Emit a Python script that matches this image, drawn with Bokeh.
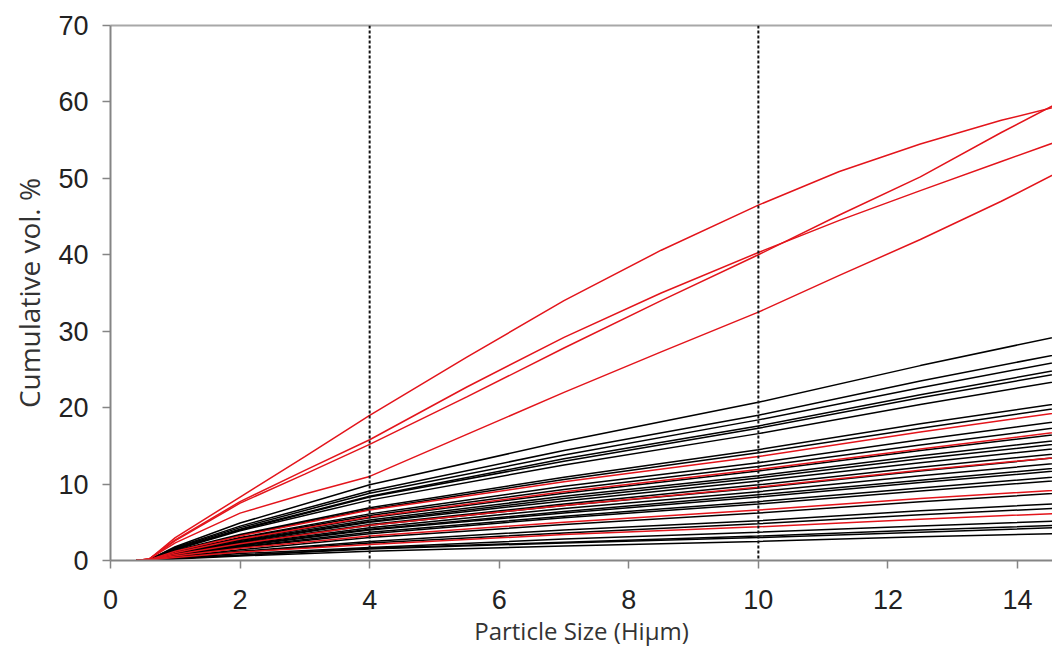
from bokeh.plotting import figure
from bokeh.models import Span, LinearAxis, Range1d, FixedTicker
from bokeh.embed import file_html
from bokeh.resources import INLINE

# particle size sample points (µm) for the black and lower red samples
x_pts = [0.4, 0.6, 1, 2, 4, 7, 10, 12.5, 15]
# particle size sample points (µm) for the upper red samples
red_x_pts = [0.4, 0.6, 1, 2, 3, 4, 5.5, 7, 8.5, 10, 11.25, 12.5, 13.75, 15]

# cumulative vol. % for the black samples
black_series = [
    [0, 0.1, 1.8, 4.9, 9.9, 15.6, 20.7, 25.5, 30.0],
    [0, 0.1, 1.7, 4.5, 9.1, 14.4, 19.0, 23.5, 27.6],
    [0, 0.1, 1.6, 4.3, 8.8, 13.8, 18.4, 22.6, 26.6],
    [0, 0.1, 1.5, 4.1, 8.4, 13.3, 17.6, 21.7, 25.5],
    [0, 0.1, 1.5, 4.0, 8.3, 13.0, 17.3, 21.3, 25.0],
    [0, 0.1, 1.4, 3.9, 7.9, 12.5, 16.6, 20.4, 24.0],
    [0, 0.1, 1.3, 3.4, 6.9, 10.9, 14.5, 17.9, 21.0],
    [0, 0.1, 1.2, 3.3, 6.7, 10.6, 14.1, 17.3, 20.4],
    [0, 0.1, 1.1, 3.0, 6.1, 9.7, 12.8, 15.8, 18.6],
    [0, 0.1, 1.1, 2.9, 5.9, 9.3, 12.3, 15.1, 17.8],
    [0, 0.1, 1.0, 2.7, 5.6, 8.8, 11.7, 14.4, 16.9],
    [0, 0.1, 1.0, 2.6, 5.3, 8.4, 11.1, 13.7, 16.1],
    [0, 0.1, 0.9, 2.5, 5.1, 8.1, 10.8, 13.3, 15.6],
    [0, 0.1, 0.9, 2.4, 5.0, 7.8, 10.4, 12.8, 15.0],
    [0, 0.1, 0.9, 2.3, 4.7, 7.4, 9.9, 12.2, 14.3],
    [0, 0.1, 0.8, 2.2, 4.6, 7.2, 9.5, 11.7, 13.8],
    [0, 0.1, 0.8, 2.1, 4.3, 6.8, 9.0, 11.1, 13.0],
    [0, 0.1, 0.7, 2.0, 4.1, 6.4, 8.6, 10.5, 12.4],
    [0, 0.1, 0.7, 1.9, 4.0, 6.2, 8.3, 10.2, 12.0],
    [0, 0.1, 0.7, 1.8, 3.7, 5.8, 7.7, 9.5, 11.2],
    [0, 0.1, 0.6, 1.7, 3.5, 5.6, 7.4, 9.1, 10.7],
    [0, 0.1, 0.5, 1.4, 3.0, 4.7, 6.2, 7.7, 9.0],
    [0, 0.1, 0.5, 1.2, 2.5, 4.0, 5.2, 6.5, 7.6],
    [0, 0.1, 0.4, 1.1, 2.3, 3.6, 4.8, 6.0, 7.0],
    [0, 0.1, 0.3, 0.9, 1.7, 2.8, 3.7, 4.5, 5.3],
    [0, 0.1, 0.3, 0.7, 1.6, 2.4, 3.2, 4.0, 4.7],
    [0, 0.1, 0.3, 0.7, 1.5, 2.3, 3.0, 3.7, 4.4],
    [0, 0.1, 0.2, 0.6, 1.2, 1.9, 2.5, 3.1, 3.6],
]

# cumulative vol. % for the lower red samples (on x_pts)
red_low_series = [
    [0, 0.1, 1.2, 3.2, 6.6, 10.3, 13.6, 16.8, 19.8],
    [0, 0.1, 1.0, 2.8, 5.7, 9.0, 11.9, 14.6, 17.2],
    [0, 0.1, 0.8, 2.2, 4.6, 7.2, 9.6, 11.8, 13.8],
    [0, 0.1, 0.6, 1.6, 3.2, 5.0, 6.6, 8.1, 9.4],
    [0, 0.1, 0.4, 1.1, 2.1, 3.4, 4.4, 5.4, 6.3],
]

# cumulative vol. % for the upper red samples (on red_x_pts)
red_high_series = [
    [0, 0.2, 3.0, 8.3, 13.6, 19.0, 26.6, 34.0, 40.6, 46.5, 50.9, 54.5, 57.6, 60.2],
    [0, 0.2, 2.6, 7.5, 11.3, 15.2, 21.4, 27.8, 34.0, 40.0, 45.2, 50.2, 56.0, 61.5],
    [0, 0.2, 2.7, 7.7, 11.8, 15.8, 22.7, 29.2, 35.0, 40.3, 44.5, 48.4, 52.2, 56.0],
    [0, 0.2, 2.3, 6.2, 8.7, 11.0, 16.5, 22.0, 27.3, 32.5, 37.3, 42.0, 47.0, 52.4],
]

x_ticks = [0, 2, 4, 6, 8, 10, 12, 14]
y_ticks = [0, 10, 20, 30, 40, 50, 60, 70]
marker_sizes = [4, 10]
x_title = "Particle Size (Hiμm)"
y_title = "Cumulative vol. %"

RED = "#e3141b"

p = figure(width=1052, height=649, output_backend="svg", toolbar_location=None,
           x_range=Range1d(0, 14.54), y_range=Range1d(0, 70),
           min_border_left=110, min_border_right=0, min_border_top=25,
           min_border_bottom=89)
p.outline_line_color = None
p.xgrid.visible = False
p.ygrid.visible = False
p.background_fill_color = "white"
p.border_fill_color = "white"

for ys in black_series:
    p.line(x_pts, ys, line_color="black", line_width=1.5)
for ys in red_low_series:
    p.line(x_pts, ys, line_color=RED, line_width=1.5)
for ys in red_high_series:
    p.line(red_x_pts, ys, line_color=RED, line_width=1.5)

for xv in marker_sizes:
    p.add_layout(Span(location=xv, dimension="height", line_color="#111111",
                      line_width=2, line_dash="3 2"))

for ax in (p.xaxis[0], p.yaxis[0]):
    ax.axis_line_color = "#858585"
    ax.axis_line_width = 2
    ax.major_tick_line_color = "#858585"
    ax.major_tick_line_width = 1.5
    ax.minor_tick_line_color = None
    ax.major_tick_in = 0
    ax.major_tick_out = 8
    ax.major_label_text_font = "Liberation Sans"
    ax.major_label_text_font_size = "27px"
    ax.major_label_text_color = "#222222"
    ax.axis_label_text_font = "Open Sans"
    ax.axis_label_text_font_style = "normal"
    ax.axis_label_text_color = "#333333"

p.xaxis[0].ticker = FixedTicker(ticks=x_ticks)
p.yaxis[0].ticker = FixedTicker(ticks=y_ticks)
p.xaxis[0].axis_label = x_title
p.yaxis[0].axis_label = y_title
p.xaxis[0].axis_label_text_font_size = "24px"
p.yaxis[0].axis_label_text_font_size = "28px"
p.xaxis[0].major_label_standoff = 21
p.yaxis[0].major_label_standoff = 14
p.xaxis[0].axis_label_standoff = 2
p.yaxis[0].axis_label_standoff = 7

top = LinearAxis(axis_line_color="#a8a8a8", axis_line_width=2,
                 ticker=FixedTicker(ticks=[]),
                 major_tick_line_color=None, minor_tick_line_color=None)
p.add_layout(top, "above")

open("out.html", "w").write(file_html(p, INLINE))
